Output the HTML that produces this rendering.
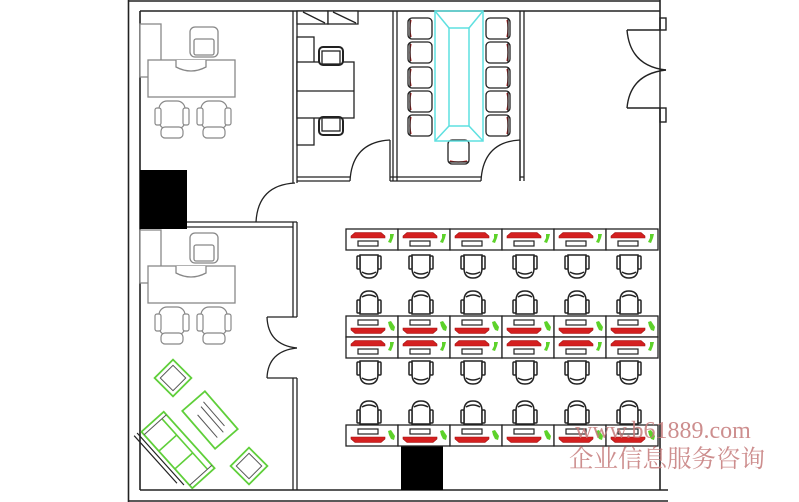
<!DOCTYPE html>
<html><head><meta charset="utf-8"><style>
html,body{margin:0;padding:0;background:#fff;width:799px;height:502px;overflow:hidden}
</style></head><body>
<svg width="799" height="502" viewBox="0 0 799 502" xmlns="http://www.w3.org/2000/svg">
<defs>
 <g id="deskA">
  <rect x="0" y="0" width="52" height="21" fill="#fff" stroke="#222" stroke-width="1.3"/>
  <polygon points="9,3.5 35,3.5 39,7 39,9 5,9 5,7" fill="#d42020" stroke="#a01010" stroke-width="0.6"/>
  <rect x="12" y="12" width="20" height="5" fill="#fff" stroke="#222" stroke-width="1.2"/>
  <path d="M44,5 l4,0 l-1,4 l-2,5 l-3,-1 l2,-4z" fill="#5dd22a"/>
 </g>
 <g id="deskB">
  <rect x="0" y="0" width="52" height="21" fill="#fff" stroke="#222" stroke-width="1.3"/>
  <polygon points="5,12 39,12 39,14 35,17.5 9,17.5 5,14" fill="#d42020" stroke="#a01010" stroke-width="0.6"/>
  <rect x="12" y="4" width="20" height="5" fill="#fff" stroke="#222" stroke-width="1.2"/>
  <path d="M42,6 l3,-1 l4,6 l-1,4 l-3,-1 l-2,-4z" fill="#5dd22a"/>
 </g>
 <g id="chairD" fill="#fff" stroke="#222" stroke-width="1.5">
  <path d="M3,2 L21,2 L21,15 Q21,25 12,25 Q3,25 3,15 Z"/>
  <rect x="0" y="3" width="3" height="13" rx="1"/>
  <rect x="21" y="3" width="3" height="13" rx="1"/>
  <path d="M5,19 Q12,23 19,19" fill="none"/>
 </g>
 <g id="chairU" fill="#fff" stroke="#222" stroke-width="1.5">
  <path d="M3,23 L21,23 L21,10 Q21,0 12,0 Q3,0 3,10 Z"/>
  <rect x="0" y="9" width="3" height="13" rx="1"/>
  <rect x="21" y="9" width="3" height="13" rx="1"/>
  <path d="M5,6 Q12,2 19,6" fill="none"/>
 </g>
 <g id="mchair" fill="#fff" stroke="#222" stroke-width="1.3">
  <rect x="0" y="0" width="24" height="21" rx="4"/>
  <path d="M3,2 Q1,10 3,19" stroke="#c01818" fill="none" stroke-width="1.2"/>
  <line x1="2" y1="1" x2="2" y2="20"/>
 </g>
 <g id="arm" fill="#fff" stroke="#888" stroke-width="1.2">
  <rect x="4" y="0" width="26" height="28" rx="8"/>
  <rect x="0" y="7" width="6" height="17" rx="2"/>
  <rect x="28" y="7" width="6" height="17" rx="2"/>
  <rect x="6" y="26" width="22" height="11" rx="4"/>
 </g>
 <g id="office" fill="#fff" stroke="#888" stroke-width="1.3">
  <rect x="140" y="24" width="21" height="53"/>
  <g transform="translate(190,27)"><rect x="0" y="0" width="28" height="30" rx="5"/><rect x="4" y="12" width="20" height="16" rx="2"/></g>
  <rect x="148" y="60" width="87" height="37"/>
  <path d="M176,60 L176,67 Q191,75 206,67 L206,60" fill="#fff"/>
  <use href="#arm" x="155" y="101"/>
  <use href="#arm" x="197" y="101"/>
 </g>
 <g id="gchair">
  <rect x="-13" y="-13" width="26" height="26" stroke="#5fcf3a" stroke-width="1.8"/>
  <rect x="-9" y="-9" width="18" height="18" stroke="#555" stroke-width="1"/>
 </g>
</defs>

<g stroke="#222" fill="none" stroke-width="1.6">
 <line x1="128.5" y1="0" x2="128.5" y2="502"/>
 <line x1="128" y1="1" x2="660" y2="1"/>
 <line x1="140" y1="11" x2="660" y2="11"/>
 <line x1="140" y1="11" x2="140" y2="490"/>
 <line x1="140" y1="490" x2="668" y2="490"/>
 <line x1="128" y1="501" x2="668" y2="501"/>
 <line x1="660" y1="0" x2="660" y2="30"/>
 <line x1="660" y1="108" x2="660" y2="490"/>
</g>
<g stroke="#222" fill="none" stroke-width="1.4">
 <rect x="660" y="18" width="6" height="12"/>
 <rect x="660" y="108" width="6" height="14"/>
 <line x1="627" y1="30" x2="660" y2="30"/>
 <path d="M627,30 Q630,66 666,70"/>
 <path d="M627,108 Q630,74 666,70"/>
 <line x1="627" y1="108" x2="660" y2="108"/>
 <line x1="660" y1="30" x2="660" y2="108"/>
</g>

<g stroke="#222" fill="none" stroke-width="1.3">
 <line x1="293" y1="11" x2="293" y2="183"/><line x1="297" y1="11" x2="297" y2="183"/>
 <line x1="393" y1="11" x2="393" y2="181"/><line x1="397" y1="11" x2="397" y2="181"/>
 <line x1="520" y1="11" x2="520" y2="181"/><line x1="524" y1="11" x2="524" y2="181"/>
 <line x1="297" y1="177" x2="350" y2="177"/><line x1="297" y1="181" x2="350" y2="181"/>
 <line x1="390" y1="177" x2="481" y2="177"/><line x1="390" y1="181" x2="481" y2="181"/>
 <line x1="520" y1="177" x2="524" y2="177"/>
 <line x1="390" y1="140" x2="390" y2="181"/><path d="M350,181 Q352,142 390,140"/>
 <line x1="520" y1="140" x2="520" y2="181"/><path d="M481,181 Q483,142 520,140"/>
 <path d="M256,222 Q258,185 295,183"/>
 <line x1="140" y1="222" x2="297" y2="222"/><line x1="187" y1="227" x2="293" y2="227"/>
 <line x1="293" y1="222" x2="293" y2="317"/><line x1="297" y1="222" x2="297" y2="317"/>
 <line x1="293" y1="378" x2="293" y2="490"/><line x1="297" y1="378" x2="297" y2="490"/>
 <line x1="267" y1="317" x2="297" y2="317"/><path d="M267,317 Q268,345 297,348"/>
 <line x1="267" y1="378" x2="297" y2="378"/><path d="M267,378 Q268,351 297,348"/>
</g>
<rect x="140" y="170" width="47" height="59" fill="#000"/>
<rect x="401" y="446" width="42" height="44" fill="#000"/>

<use href="#office"/>
<use href="#office" y="206"/>

<g stroke="#222" fill="#fff" stroke-width="1.3">
 <rect x="297" y="11" width="31" height="13"/><rect x="328" y="11" width="30" height="13"/>
 <line x1="303" y1="12" x2="325" y2="23"/><line x1="333" y1="12" x2="356" y2="23"/>
 <rect x="297" y="37" width="17" height="108"/>
 <rect x="297" y="62" width="57" height="56"/>
 <line x1="297" y1="91" x2="354" y2="91"/>
 <rect x="319" y="47" width="24" height="18" rx="4" stroke-width="2"/>
 <rect x="322" y="51" width="18" height="13" fill="#fff"/>
 <rect x="319" y="117" width="24" height="18" rx="4" stroke-width="2"/>
 <rect x="322" y="118" width="18" height="13" fill="#fff"/>
</g>

<g>
 <g transform="translate(408,18)"><use href="#mchair" y="0"/><use href="#mchair" y="24"/><use href="#mchair" y="49"/><use href="#mchair" y="73"/><use href="#mchair" y="97"/></g>
 <g transform="translate(510,18) scale(-1,1)"><use href="#mchair" y="0"/><use href="#mchair" y="24"/><use href="#mchair" y="49"/><use href="#mchair" y="73"/><use href="#mchair" y="97"/></g>
 <g transform="translate(448,164) rotate(-90)"><use href="#mchair"/></g>
 <g stroke="#5ee0e0" fill="none" stroke-width="1.5">
  <rect x="435" y="11" width="48" height="130"/>
  <rect x="449" y="28" width="20" height="98"/>
  <line x1="435" y1="11" x2="449" y2="28"/><line x1="483" y1="11" x2="469" y2="28"/>
  <line x1="435" y1="141" x2="449" y2="126"/><line x1="483" y1="141" x2="469" y2="126"/>
 </g>
</g>

<g>
 <g transform="translate(346,229)">
  <use href="#deskA" x="0"/><use href="#deskA" x="52"/><use href="#deskA" x="104"/><use href="#deskA" x="156"/><use href="#deskA" x="208"/><use href="#deskA" x="260"/>
 </g>
 <g transform="translate(357,253)">
  <use href="#chairD" x="0"/><use href="#chairD" x="52"/><use href="#chairD" x="104"/><use href="#chairD" x="156"/><use href="#chairD" x="208"/><use href="#chairD" x="260"/>
 </g>
 <g transform="translate(357,291)">
  <use href="#chairU" x="0"/><use href="#chairU" x="52"/><use href="#chairU" x="104"/><use href="#chairU" x="156"/><use href="#chairU" x="208"/><use href="#chairU" x="260"/>
 </g>
 <g transform="translate(346,316)">
  <use href="#deskB" x="0"/><use href="#deskB" x="52"/><use href="#deskB" x="104"/><use href="#deskB" x="156"/><use href="#deskB" x="208"/><use href="#deskB" x="260"/>
 </g>
 <g transform="translate(346,337)">
  <use href="#deskA" x="0"/><use href="#deskA" x="52"/><use href="#deskA" x="104"/><use href="#deskA" x="156"/><use href="#deskA" x="208"/><use href="#deskA" x="260"/>
 </g>
 <g transform="translate(357,359)">
  <use href="#chairD" x="0"/><use href="#chairD" x="52"/><use href="#chairD" x="104"/><use href="#chairD" x="156"/><use href="#chairD" x="208"/><use href="#chairD" x="260"/>
 </g>
 <g transform="translate(357,401)">
  <use href="#chairU" x="0"/><use href="#chairU" x="52"/><use href="#chairU" x="104"/><use href="#chairU" x="156"/><use href="#chairU" x="208"/><use href="#chairU" x="260"/>
 </g>
 <g transform="translate(346,425)">
  <use href="#deskB" x="0"/><use href="#deskB" x="52"/><use href="#deskB" x="104"/><use href="#deskB" x="156"/><use href="#deskB" x="208"/><use href="#deskB" x="260"/>
 </g>
</g>

<g fill="none">
 <g transform="translate(173,378) rotate(45)"><use href="#gchair"/></g>
 <g transform="translate(249,466) rotate(45)"><use href="#gchair"/></g>
 <g transform="translate(210,420) rotate(49)">
  <rect x="-25" y="-15" width="50" height="30" stroke="#5fcf3a" stroke-width="1.8"/>
  <line x1="-18" y1="-7" x2="14" y2="-7" stroke="#555" stroke-width="1"/>
  <line x1="-16" y1="-2" x2="18" y2="-2" stroke="#555" stroke-width="1"/>
  <line x1="-12" y1="6" x2="18" y2="6" stroke="#555" stroke-width="1"/>
 </g>
 <g transform="translate(178,450) rotate(48)">
  <rect x="-38" y="-15" width="76" height="30" stroke="#5fcf3a" stroke-width="1.8"/>
  <line x1="-34" y1="-9" x2="34" y2="-9" stroke="#5fcf3a" stroke-width="1.6"/>
  <line x1="-12" y1="-9" x2="-12" y2="15" stroke="#5fcf3a" stroke-width="1.6"/>
  <line x1="12" y1="-9" x2="12" y2="15" stroke="#5fcf3a" stroke-width="1.6"/>
  <line x1="-34" y1="-15" x2="-34" y2="15" stroke="#555" stroke-width="1"/>
  <line x1="34" y1="-15" x2="34" y2="15" stroke="#555" stroke-width="1"/>
  <line x1="-40" y1="19" x2="30" y2="19" stroke="#222" stroke-width="1.2"/>
  <line x1="-40" y1="23" x2="24" y2="23" stroke="#222" stroke-width="1.2"/>
 </g>
</g>

<text x="575" y="438" font-family="'Liberation Serif', serif" font-size="24" fill="#c47a7a" fill-opacity="0.85">www.b61889.com</text>
<text x="569" y="467" font-family="'Liberation Serif','Noto Serif CJK SC',serif" font-size="24.5" fill="#c47a7a" fill-opacity="0.85">企业信息服务咨询</text>
</svg>
</body></html>
